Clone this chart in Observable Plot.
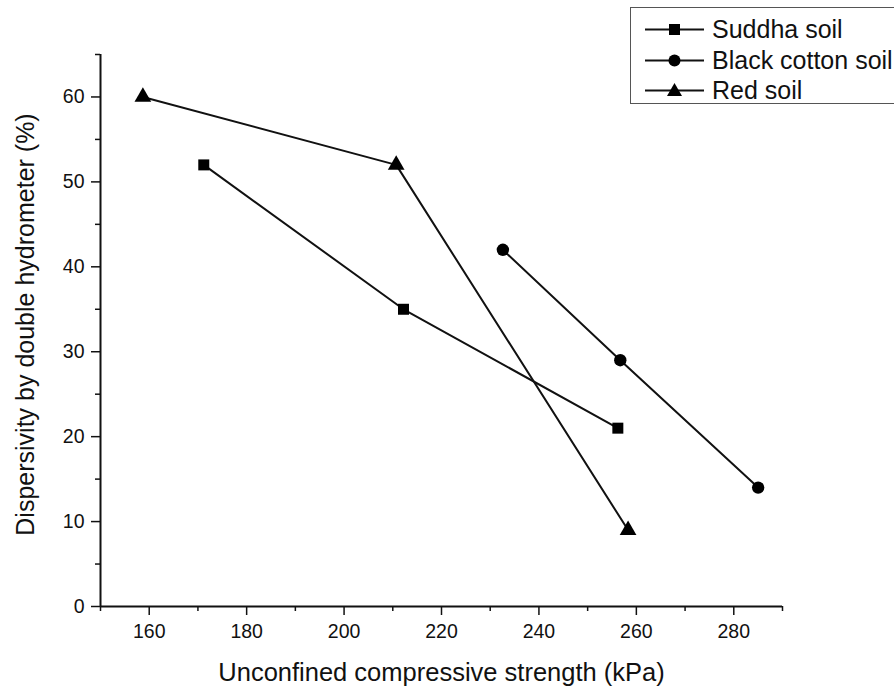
<!DOCTYPE html>
<html>
<head>
<meta charset="utf-8">
<script src="https://cdn.jsdelivr.net/npm/d3@7"></script>
<script src="https://cdn.jsdelivr.net/npm/@observablehq/plot@0.6"></script>
<style>
  html, body { margin: 0; padding: 0; background: #fff; }
  #wrap { position: relative; width: 894px; height: 690px; overflow: hidden; font-family: "Liberation Sans", Arial, sans-serif; }
  #legend { position: absolute; left: 630px; top: 7px; width: 300px; height: 97px; border: 1.5px solid #555; box-sizing: border-box; background: #fff; }
  .row { position: absolute; left: 0; height: 30px; display: flex; align-items: center; font-size: 25px; color: #111; white-space: nowrap; }
  .row svg { margin-left: 14px; margin-right: 8px; flex: none; }
</style>
</head>
<body>
<div id="wrap"></div>
<script>
// ---- data ----
const seriesNames = ["Suddha soil", "Black cotton soil", "Red soil"];
const symbols = ["square", "circle", "triangle"];
const suddhaX = [171.2, 212.2, 256.2];
const suddhaY = [52, 35, 21];
const blackX = [232.6, 256.7, 285.0];
const blackY = [42, 29, 14];
const redX = [158.7, 210.7, 258.3];
const redY = [60, 52, 9];
const xMajor = [160, 180, 200, 220, 240, 260, 280];
const xMinor = [150, 170, 190, 210, 230, 250, 270, 290];
const yMajor = [0, 10, 20, 30, 40, 50, 60];
const yMinor = [5, 15, 25, 35, 45, 55, 65];
const xTitle = "Unconfined compressive strength (kPa)";
const yTitle = "Dispersivity by double hydrometer (%)";

const xs = [suddhaX, blackX, redX];
const ys = [suddhaY, blackY, redY];
const rows = [];
seriesNames.forEach((s, i) => xs[i].forEach((x, j) => rows.push({series: s, sym: symbols[i], x, y: ys[i][j]})));

const chart = Plot.plot({
  width: 894,
  height: 690,
  marginLeft: 100,
  marginRight: 112,
  marginTop: 54,
  marginBottom: 84,
  style: {fontFamily: "Liberation Sans, Arial, sans-serif", color: "#111", background: "#fff"},
  x: {domain: [150, 290]},
  y: {domain: [0, 65]},
  symbol: {domain: symbols, range: symbols},
  marks: [
    Plot.axisX({ticks: xMinor, tickSize: 5, tickFormat: () => "", strokeWidth: 1.5, label: null}),
    Plot.axisX({ticks: xMajor, tickSize: 9, tickPadding: 9, fontSize: 19.5, strokeWidth: 1.5, label: null}),
    Plot.axisY({ticks: yMinor, tickSize: 5, tickFormat: () => "", strokeWidth: 1.5, label: null}),
    Plot.axisY({ticks: yMajor, tickSize: 9, tickPadding: 7, fontSize: 19.5, strokeWidth: 1.5, label: null}),
    Plot.ruleY([0], {stroke: "#111", strokeWidth: 2}),
    Plot.ruleX([150], {stroke: "#111", strokeWidth: 2}),
    Plot.text([xTitle], {frameAnchor: "bottom", textAnchor: "middle", dy: 74, fontSize: 25.5, fill: "#111"}),
    Plot.text([yTitle], {frameAnchor: "left", textAnchor: "middle", rotate: -90, dx: -75, dy: -6, fontSize: 25, fill: "#111"}),
    Plot.line(rows, {x: "x", y: "y", z: "series", stroke: "#111", strokeWidth: 2}),
    Plot.dot(rows, {x: "x", y: "y", symbol: "sym", r: 6.2, fill: "#000", stroke: "none"})
  ]
});

const wrap = document.getElementById("wrap");
wrap.appendChild(chart);

// legend
const legend = document.createElement("div");
legend.id = "legend";
const symPaths = {
  square: '<rect x="24" y="6" width="11" height="11" fill="#000"/>',
  circle: '<circle cx="29.5" cy="11.5" r="6" fill="#000"/>',
  triangle: '<path d="M29.5 4 L37 17 L22 17 Z" fill="#000"/>'
};
const rowTops = [6, 37, 67];
seriesNames.forEach((name, i) => {
  const r = document.createElement("div");
  r.className = "row";
  r.style.top = rowTops[i] + "px";
  r.innerHTML = '<svg width="59" height="23"><line x1="0" x2="59" y1="11.5" y2="11.5" stroke="#111" stroke-width="2"/>' + symPaths[symbols[i]] + '</svg><span>' + name + '</span>';
  legend.appendChild(r);
});
wrap.appendChild(legend);
</script>
</body>
</html>
